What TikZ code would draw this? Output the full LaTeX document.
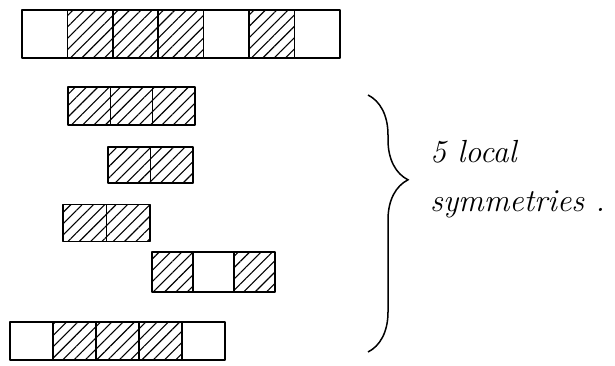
\documentclass[tikz,border=0pt]{standalone}
\usetikzlibrary{patterns.meta,decorations.pathreplacing}

\tikzset{
  cell/.style={inner sep=0pt, outer sep=0pt, anchor=west},
  blank/.style={},
  hatch/.style={pattern={Lines[angle=45,distance=8pt,line width=1.1pt]}},
  edge/.style={line width=1.5pt, line join=round},
}

% one row of cells: name, left edge, centre height, cell width, cell height, kinds
\newcommand\cellrow[6]{%
  \foreach \k [count=\i] in {#6}
    \node[cell, \k, minimum width=#4pt, minimum height=#5pt] (#1c\i) at ({#2+(\i-1)*#4}, #3) {};
  % outlines after the fills, so shared edges keep their width
  \foreach \k [count=\i] in {#6}
    \draw[edge] (#1c\i.north west) rectangle (#1c\i.south east);
}

\begin{document}
\begin{tikzpicture}[x=1pt, y=-1pt]

  \useasboundingbox (0,0) rectangle (615,366);

  % the full strip
  \cellrow{full}{22}{34}{45.4}{48}{blank,hatch,hatch,hatch,blank,hatch,blank}

  % the pieces
  \cellrow{pa}{68}{106}{42.3}{38}{hatch,hatch,hatch}
  \cellrow{pb}{108}{165}{42.5}{36}{hatch,hatch}
  \cellrow{pc}{63}{223}{43.5}{37}{hatch,hatch}
  \cellrow{pd}{152}{272}{41}{40}{hatch,blank,hatch}
  \cellrow{pe}{10}{341}{43}{38}{blank,hatch,hatch,hatch,blank}

  % brace and its text
  \draw[line width=1.5pt, decorate, decoration={brace, amplitude=40pt, aspect=0.33}]
    (368,95) -- (368,352);
  \node[anchor=base west, align=left, font=\fontsize{32}{48}\selectfont\itshape, inner sep=0pt]
    (note) at (430,211) {5 local\\symmetries .};

\end{tikzpicture}
\end{document}
